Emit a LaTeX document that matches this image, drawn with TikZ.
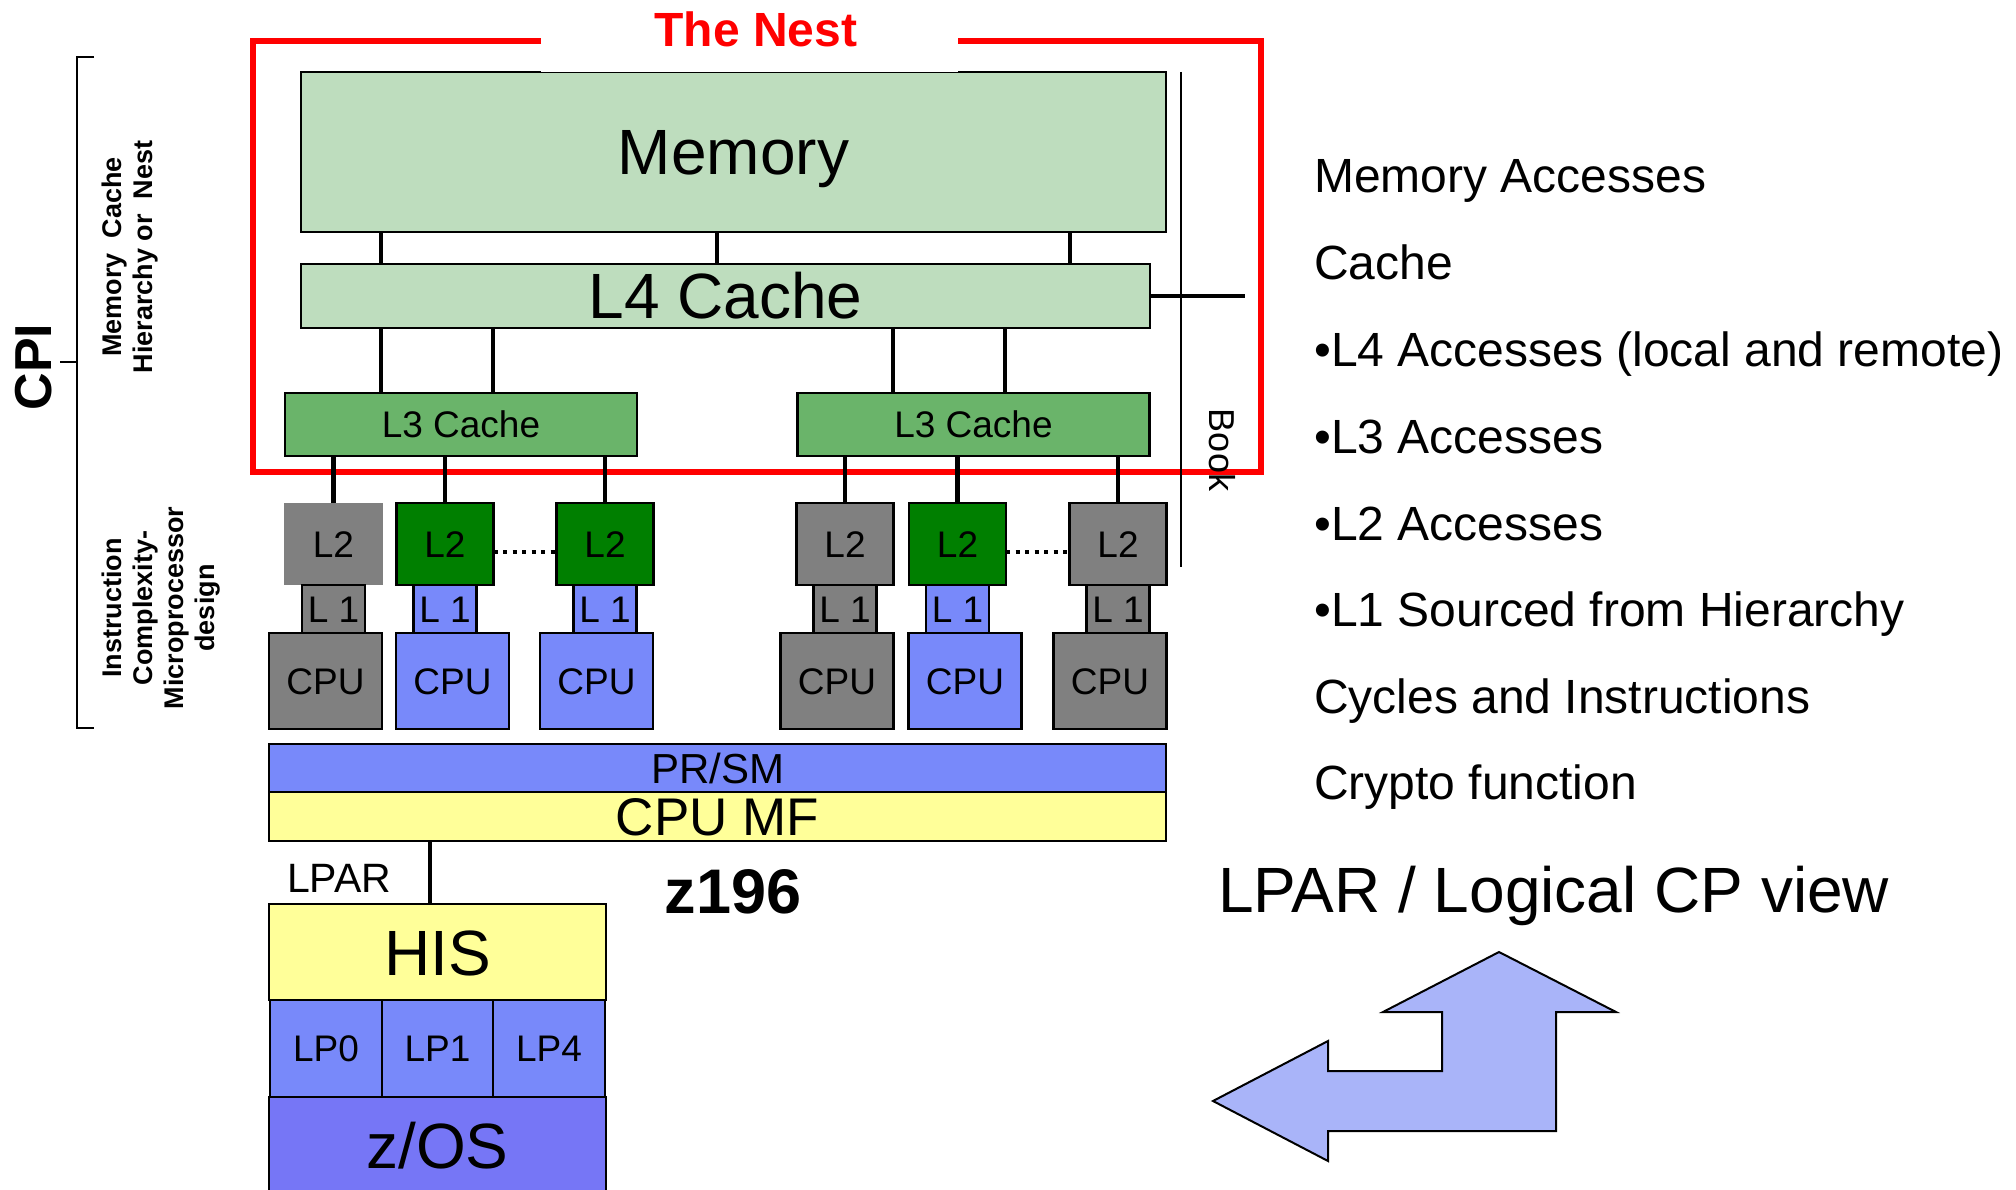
\documentclass[tikz,border=0pt]{standalone}
\usepackage{fontspec}
\setmainfont{Liberation Sans}
\usetikzlibrary{positioning}

\definecolor{memgreen}{HTML}{BEDDBE}
\definecolor{lthreegreen}{HTML}{6AB46A}
\definecolor{ltwogreen}{HTML}{007F00}
\definecolor{unitgray}{HTML}{808080}
\definecolor{unitblue}{HTML}{7889FA}
\definecolor{osblue}{HTML}{7676F6}
\definecolor{mfyellow}{HTML}{FFFF99}
\definecolor{arrowblue}{HTML}{A9B4F9}

\tikzstyle{box} = [rectangle, draw=black, line width=2.8pt, inner sep=0pt, outer sep=0pt, text centered, text depth=0pt]
\tikzstyle{bigbox} = [box, font=\fontsize{64}{70}\selectfont, text height=46pt]
\tikzstyle{smallbox} = [box, font=\fontsize{37}{40}\selectfont, text height=26.5pt]
\tikzstyle{lthree} = [smallbox, fill=lthreegreen, minimum width=352pt, minimum height=63pt]
\tikzstyle{ltwo} = [smallbox, minimum width=97pt, minimum height=82pt]
\tikzstyle{lone} = [smallbox, minimum width=63pt, minimum height=48pt]
\tikzstyle{cpu} = [smallbox, minimum width=113pt, minimum height=96pt]
\tikzstyle{lpbox} = [smallbox, fill=unitblue, minimum width=112pt, minimum height=97pt]
\tikzstyle{link} = [line width=4.3pt]
\tikzstyle{dots} = [line width=4.5pt, dash pattern=on 4pt off 5.5pt]
\tikzstyle{bracket} = [line width=2.5pt]
\tikzstyle{sidetext} = [align=center, rotate=90, font=\bfseries\fontsize{27}{31}\selectfont]
\tikzstyle{counter} = [anchor=base west, inner sep=0pt, font=\fontsize{48}{52}\selectfont]

\begin{document}
\begin{tikzpicture}[x=1pt, y=-1pt]
\path[use as bounding box, fill=white] (0,0) rectangle (2016,1190);

% the nest: memory, L4 and L3
\node (mem) [bigbox, fill=memgreen, minimum width=865pt, minimum height=160pt] at (733.5,152) {Memory};
\node (l4) [bigbox, fill=memgreen, minimum width=849pt, minimum height=64pt] at (725.5,296) {L4 Cache};
\node (l3a) [lthree] at (461,424.5) {L3 Cache};
\node (l3b) [lthree] at (973.5,424.5) {L3 Cache};

\fill[white] (541,0) rectangle (958,72);
\draw[red, line width=6.5pt] (541,41) -- (253,41) -- (253,472) -- (1261,472) -- (1261,41) -- (958,41);
\node (title) [anchor=base, inner sep=0pt, text=red, font=\bfseries\fontsize{48}{52}\selectfont] at (756,47) {The Nest};

\foreach \dx in {80,416,769}
  \draw[link] ([xshift=\dx pt]mem.south west) -- ([xshift=\dx pt]mem.south west |- l4.north);
\draw[link] ([xshift=80pt]l4.south west) -- ([xshift=80pt]l4.south west |- l3a.north);
\draw[link] ([xshift=192pt]l4.south west) -- ([xshift=192pt]l4.south west |- l3a.north);
\draw[link] ([xshift=592pt]l4.south west) -- ([xshift=592pt]l4.south west |- l3b.north);
\draw[link] ([xshift=704pt]l4.south west) -- ([xshift=704pt]l4.south west |- l3b.north);

% book
\draw[line width=1.8pt] (1181,72) -- (1181,567);
\draw[link] (l4.east) -- ++(95,0);
\node (book) [rotate=-90, inner sep=0pt, font=\fontsize{36}{40}\selectfont, text height=26pt, text depth=0pt] at (1222,450) {Book};

% cores
\node (l2a) [ltwo, fill=unitgray, draw=none, minimum width=99pt] at (333.5,544) {L2};
\node (l2b) [ltwo, fill=ltwogreen] at (445,544) {L2};
\node (l2c) [ltwo, fill=ltwogreen] at (605,544) {L2};
\node (l2d) [ltwo, fill=unitgray] at (845,544) {L2};
\node (l2e) [ltwo, fill=ltwogreen] at (957.5,544) {L2};
\node (l2f) [ltwo, fill=unitgray] at (1118,544) {L2};

\node (l1a) [lone, fill=unitgray, below=0pt of l2a] {L 1};
\node (l1b) [lone, fill=unitblue, below=0pt of l2b] {L 1};
\node (l1c) [lone, fill=unitblue, below=0pt of l2c] {L 1};
\node (l1d) [lone, fill=unitgray, below=0pt of l2d] {L 1};
\node (l1e) [lone, fill=unitblue, below=0pt of l2e] {L 1};
\node (l1f) [lone, fill=unitgray, below=0pt of l2f] {L 1};

\node (cpua) [cpu, fill=unitgray, below=0pt of l1a, xshift=-8pt] {CPU};
\node (cpub) [cpu, fill=unitblue, below=0pt of l1b, xshift=7.5pt] {CPU};
\node (cpuc) [cpu, fill=unitblue, below=0pt of l1c, xshift=-8.5pt] {CPU};
\node (cpud) [cpu, fill=unitgray, below=0pt of l1d, xshift=-8pt] {CPU};
\node (cpue) [cpu, fill=unitblue, below=0pt of l1e, xshift=7.5pt] {CPU};
\node (cpuf) [cpu, fill=unitgray, below=0pt of l1f, xshift=-8pt] {CPU};

\draw[link] (l2a.north) -- (l2a.north |- l3a.south);
\draw[link] (l2b.north) -- (l2b.north |- l3a.south);
\draw[link] (l2c.north) -- (l2c.north |- l3a.south);
\draw[link] (l2d.north) -- (l2d.north |- l3b.south);
\draw[link] (l2e.north) -- (l2e.north |- l3b.south);
\draw[link] (l2f.north) -- (l2f.north |- l3b.south);
\draw[dots] ([yshift=-8pt]l2b.east) -- ([yshift=-8pt]l2c.west);
\draw[dots] ([yshift=-8pt]l2e.east) -- ([yshift=-8pt]l2f.west);

% machine layers
\node (prsm) [box, fill=unitblue, minimum width=897pt, minimum height=48pt, font=\fontsize{42}{46}\selectfont, text height=30pt] at (717.5,768) {PR/SM};
\node (cpumf) [box, fill=mfyellow, minimum width=897pt, minimum height=49pt, font=\fontsize{53}{58}\selectfont, text height=38pt, below=0pt of prsm] {CPU MF};

\node (his) [bigbox, fill=mfyellow, minimum width=337pt, minimum height=96pt] at (437.5,952) {HIS};
\node (lp1) [lpbox, minimum width=111pt, below=0pt of his] {LP1};
\node (lp0) [lpbox, left=0pt of lp1] {LP0};
\node (lp4) [lpbox, right=0pt of lp1] {LP4};
\node (zos) [bigbox, fill=osblue, minimum width=337pt, minimum height=96pt, below=0pt of lp1] {z/OS};
\draw[link] ([xshift=-7.5pt]his.north) -- ([xshift=-7.5pt]his.north |- cpumf.south);

\node (lparlbl) [anchor=base west, inner sep=0pt, font=\fontsize{41}{44}\selectfont] at (287,892) {LPAR};
\node (model) [anchor=base, inner sep=0pt, font=\bfseries\fontsize{63}{66}\selectfont] at (733,913) {z196};

% CPI bracket
\draw[bracket] (94,57) -- (77,57) -- (77,728) -- (94,728);
\draw[bracket] (60,362) -- (77,362);
\node (cpi) [rotate=90, inner sep=0pt, font=\bfseries\fontsize{52}{56}\selectfont, text height=37pt, text depth=0pt] at (33,367) {CPI};
\node (nestlbl) [sidetext] at (130,257) {Memory\ \ Cache\\Hierarchy or\ \ Nest};
\node (designlbl) [sidetext] at (161,608) {Instruction\\Complexity-\\Microprocessor\\design};

% counters
\node (c1) [counter] at (1314,193) {Memory Accesses};
\node (c2) [counter] at (1314,280) {Cache};
\node (c3) [counter] at (1314,366) {•L4 Accesses (local and remote)};
\node (c4) [counter] at (1314,453) {•L3 Accesses};
\node (c5) [counter] at (1314,540) {•L2 Accesses};
\node (c6) [counter] at (1314,626) {•L1 Sourced from Hierarchy};
\node (c7) [counter] at (1314,713) {Cycles and Instructions};
\node (c8) [counter] at (1314,799) {Crypto function};

\node (view) [anchor=base west, inner sep=0pt, font=\fontsize{64}{68}\selectfont] at (1218,912) {LPAR / Logical CP view};
\filldraw[fill=arrowblue, draw=black, line width=2pt] (1499,952) -- (1616,1012) -- (1556,1012) -- (1556,1131) -- (1328,1131) -- (1328,1161) -- (1213,1101) -- (1328,1041) -- (1328,1071) -- (1442,1071) -- (1442,1012) -- (1383,1012) -- cycle;

\end{tikzpicture}
\end{document}
